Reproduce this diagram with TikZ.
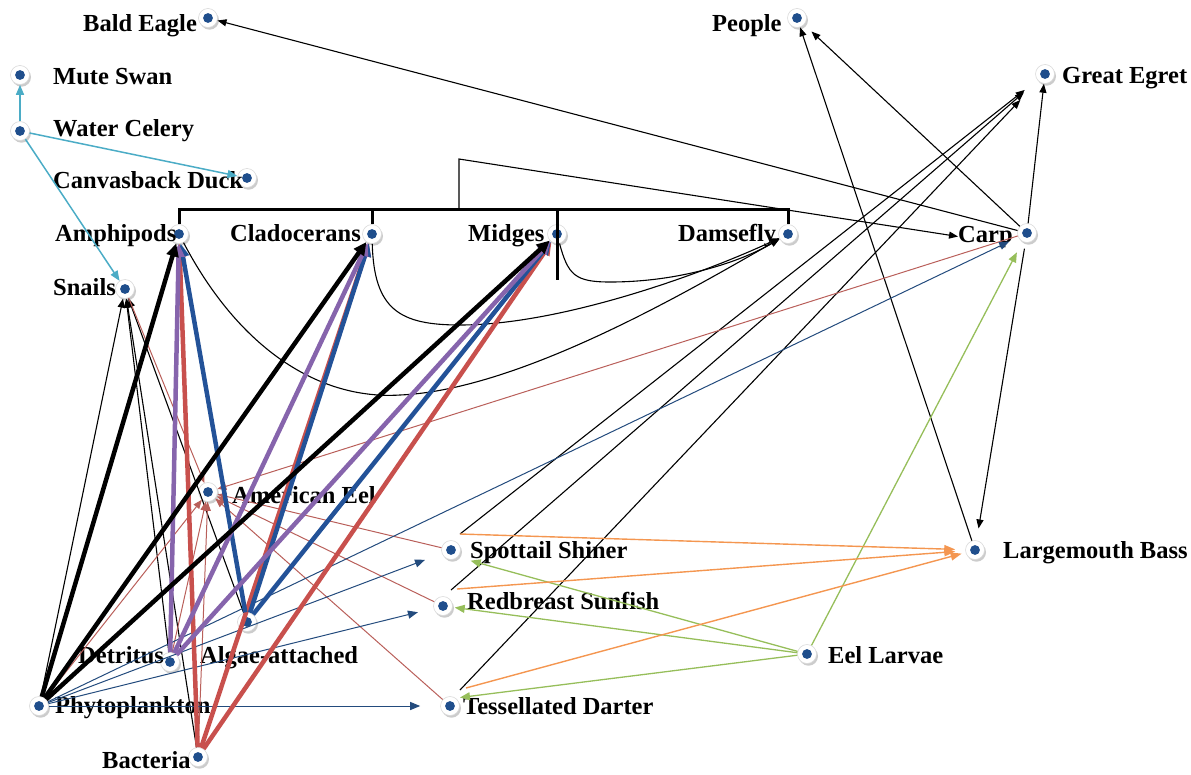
\documentclass[tikz,border=0pt]{standalone}
\usepackage{fontspec}
\setmainfont{Liberation Serif}
\usetikzlibrary{arrows.meta,shadows}
\definecolor{tealc}{RGB}{75,172,198}
\definecolor{purp}{RGB}{134,100,172}
\definecolor{redc}{RGB}{200,80,77}
\definecolor{redt}{RGB}{185,95,90}
\definecolor{blueth}{RGB}{35,82,152}
\definecolor{bluetn}{RGB}{35,75,125}
\definecolor{greenc}{RGB}{150,190,90}
\definecolor{orangec}{RGB}{244,150,80}
\definecolor{dotblue}{RGB}{31,78,140}
\begin{document}
\begin{tikzpicture}[x=1pt,y=-1pt,
  sp/.style={circle, minimum size=19pt, inner sep=0pt, fill=white, draw=black!15, line width=0.6pt,
    drop shadow={shadow xshift=1.5pt, shadow yshift=-2.2pt, opacity=0.4, fill=black!50},
    path picture={\fill[dotblue] (path picture bounding box.center) circle (4.9pt);}},
  lbl/.style={anchor=base west, inner sep=0pt, font=\bfseries\fontsize{24.5}{28}\selectfont},
  bk/.style={draw=black, line width=1.1pt, -{Triangle[length=9pt,width=7pt]}},
  tl/.style={draw=tealc, line width=1.5pt, -{Triangle[length=10pt,width=8pt]}},
  rt/.style={draw=redt, line width=1pt, -{Triangle[length=9pt,width=7pt]}},
  bt/.style={draw=bluetn, line width=1pt, -{Triangle[length=10pt,width=8pt]}},
  gt/.style={draw=greenc, line width=1.3pt, -{Triangle[length=10pt,width=8pt]}},
  ot/.style={draw=orangec, line width=1.4pt, -{Triangle[length=11pt,width=8pt]}},
  thk/.style={line width=4.5pt, -{Triangle[length=13pt,width=12pt]}},
  brkt/.style={draw=black, line width=3pt}
]
\useasboundingbox (0,0) rectangle (1191,774);

% nodes (dots)
\node[sp] (eagle) at (208,18) {};
\node[sp] (swan) at (20,75) {};
\node[sp] (wc) at (20,131) {};
\node[sp] (duck) at (247,178) {};
\node[sp] (amph) at (179,234) {};
\node[sp] (clad) at (372,234) {};
\node[sp] (mid) at (557,234) {};
\node[sp] (dams) at (788,234) {};
\node[sp] (carp) at (1027,233) {};
\node[sp] (people) at (797,18) {};
\node[sp] (egret) at (1045,74) {};
\node[sp] (snails) at (125,289) {};
\node[sp] (ameel) at (208,492) {};
\node[sp] (spot) at (451,550) {};
\node[sp] (red) at (443,606) {};
\node[sp] (dart) at (450,706) {};
\node[sp] (larv) at (807,654) {};
\node[sp] (bass) at (975,550) {};
\node[sp] (detr) at (170,662) {};
\node[sp] (alga) at (247,622) {};
\node[sp] (phyto) at (39,706) {};
\node[sp] (bact) at (198,757) {};

% labels
\node[lbl] (eagleL) at (83,31) {Bald Eagle};
\node[lbl] (swanL) at (53,84) {Mute Swan};
\node[lbl] (wcL) at (53,136) {Water Celery};
\node[lbl] (duckL) at (53,188) {Canvasback Duck};
\node[lbl] (amphL) at (55,241) {Amphipods};
\node[lbl] (cladL) at (230,241) {Cladocerans};
\node[lbl] (midL) at (468,241) {Midges};
\node[lbl] (damsL) at (678,241) {Damsefly};
\node[lbl] (carpL) at (958,242) {Carp};
\node[lbl] (peopleL) at (712,31) {People};
\node[lbl] (egretL) at (1062,83) {Great Egret};
\node[lbl] (snailsL) at (53,295) {Snails};
\node[lbl] (ameelL) at (232,503) {American Eel};
\node[lbl] (spotL) at (470,558) {Spottail Shiner};
\node[lbl] (redL) at (467,609) {Redbreast Sunfish};
\node[lbl] (dartL) at (463,714) {Tessellated Darter};
\node[lbl] (larvL) at (828,663) {Eel Larvae};
\node[lbl] (bassL) at (1003,558) {Largemouth Bass};
\node[lbl] (detrL) at (78,663) {Detritus};
\node[lbl] (algaL) at (200,663) {Algae-attached};
\node[lbl] (phytoL) at (55,713) {Phytoplankton};
\node[lbl] (bactL) at (102,768) {Bacteria};

% teal
\draw[tl] (wc) -- (swan);
\draw[tl] (wc) -- (duck);
\draw[tl] (wc) -- (snails);

% bracket
\coordinate (brk) at (0,209);
\coordinate (midlow) at (557,280);
\coordinate (brkA) at (459,209);
\coordinate (brkB) at (459,159);
\draw[brkt] (amph.north) -- (amph.north |- brk) -- (dams.north |- brk) -- (dams.north);
\draw[brkt] (clad.north) -- (clad.north |- brk);
\draw[brkt] (mid.north |- brk) -- (midlow);
\draw[bk] (brkA) -- (brkB) -- (carpL.west);

% thin black
\draw[bk] (phyto) -- (snails);
\draw[bk] (detr) -- (snails);
\draw[bk] (bact) -- (snails);
\draw[bk] (alga) -- (snails);
\draw[bk] (amph) .. controls (240,350) and (320,400) .. (400,395) .. controls (520,390) and (690,290) .. (dams);
\draw[bk] (clad) .. controls (374,310) and (400,325) .. (460,325) .. controls (560,325) and (700,275) .. (dams);
\draw[bk] (mid) .. controls (568,275) and (575,282) .. (610,282) .. controls (680,282) and (740,262) .. (dams);
\draw[bk] (carp) -- (eagle);
\draw[bk, shorten >=10pt] (carp) -- (people);
\draw[bk] (carp) -- (egret);
\draw[bk, shorten <=6pt, shorten >=12pt] (carp) -- (bass);
\draw[bk] (bass) -- (people);
\draw[bk, shorten >=16pt] ([xshift=9pt,yshift=16pt]spot.center) -- (egret);
\draw[bk, shorten >=18pt] ([xshift=8pt,yshift=16pt]red.center) -- (egret);
\draw[bk, shorten >=26pt] ([xshift=10pt,yshift=16pt]dart.center) -- (egret);

% thin red to American Eel
\draw[rt] (carp) -- (ameel);
\draw[rt] (spot) -- (ameel);
\draw[rt] (red) -- (ameel);
\draw[rt] (dart) -- (ameel);
\draw[rt] (snails) -- (ameel);
\draw[rt] (phyto) -- (ameel);
\draw[rt] (bact) -- (ameel);
\draw[rt] (detr) -- (ameel);

% thin blue from phytoplankton
\draw[bt, shorten >=18pt] (phyto) -- (spot);
\draw[bt, shorten >=16pt] (phyto) -- (red);
\draw[bt, shorten >=20pt] (phyto) -- (dart);
\draw[bt, shorten >=10pt] (phyto) -- (carp);

% green from eel larvae
\draw[gt, shorten >=12pt] (larv) -- (carp);
\draw[gt, shorten >=10pt] (larv) -- ([xshift=10pt,yshift=-8pt]spot.center);
\draw[gt, shorten >=2pt] (larv) -- (red);
\draw[gt, shorten >=4pt] (larv) -- ([xshift=6pt,yshift=8pt]dart.center);

% orange to largemouth bass
\draw[ot, shorten >=10pt] ([xshift=9pt,yshift=16pt]spot.center) -- (bass);
\draw[ot, shorten >=10pt] ([xshift=14pt,yshift=17pt]red.center) -- (bass);
\draw[ot, shorten >=4pt] ([xshift=16pt,yshift=18pt]dart.center) -- (bass);

% thick edges
\draw[thk, draw=redc] (bact) -- (amph);
\draw[thk, draw=redc] (bact) -- (clad);
\draw[thk, draw=redc] (bact) -- (mid);
\draw[thk, draw=blueth] (alga) -- (amph);
\draw[thk, draw=blueth] (alga) -- (clad);
\draw[thk, draw=blueth] (alga) -- (mid);
\draw[thk, draw=purp] (detr) -- (amph);
\draw[thk, draw=purp] (detr) -- (clad);
\draw[thk, draw=purp] (detr) -- (mid);
\draw[thk, draw=black] (phyto) -- (amph);
\draw[thk, draw=black] (phyto) -- (clad);
\draw[thk, draw=black] (phyto) -- (mid);
\end{tikzpicture}
\end{document}
